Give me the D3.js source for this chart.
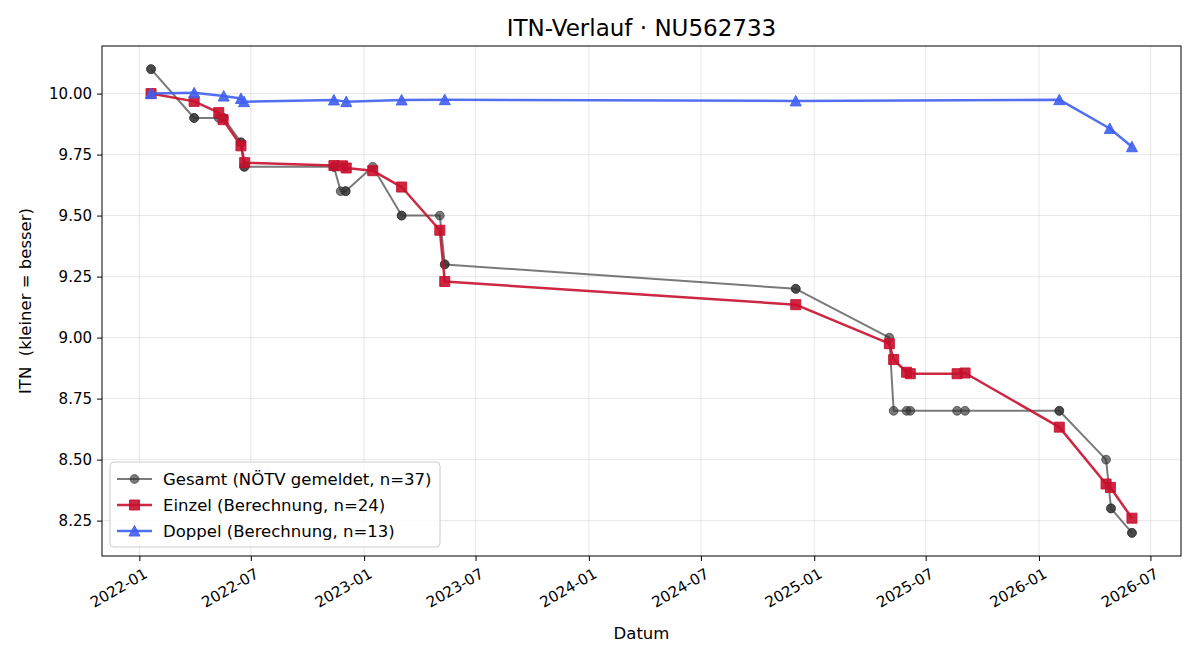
<!DOCTYPE html>
<html>
<head>
<meta charset="utf-8">
<script src="https://cdn.jsdelivr.net/npm/d3@7"></script>
<style>
  body { margin: 0; background: #fff; }
  svg { display: block; font-family: "DejaVu Sans", sans-serif; }
</style>
</head>
<body>
<svg id="chart" width="1200" height="660"></svg>
<script>
// ---- data ----
const gesamtDates = ["2022-01-20","2022-01-20","2022-03-31","2022-03-31","2022-05-10","2022-05-17","2022-05-18",
  "2022-06-15","2022-06-15","2022-06-20","2022-06-21","2022-11-13","2022-11-13","2022-11-24","2022-12-02","2022-12-02",
  "2023-01-15","2023-03-03","2023-03-03","2023-05-04","2023-05-12","2023-05-12","2024-12-02","2024-12-02",
  "2025-05-03","2025-05-10","2025-05-31","2025-06-06","2025-08-21","2025-09-03","2026-02-03","2026-02-03",
  "2026-04-20","2026-04-28","2026-04-28","2026-06-01","2026-06-01"];
const gesamtValues = [10.10,10.10,9.90,9.90,9.90,9.90,9.90,
  9.80,9.80,9.70,9.70,9.70,9.70,9.60,9.60,9.60,
  9.70,9.50,9.50,9.50,9.30,9.30,9.20,9.20,
  9.00,8.70,8.70,8.70,8.70,8.70,8.70,8.70,
  8.50,8.30,8.30,8.20,8.20];

const einzelDates = ["2022-01-20","2022-03-31","2022-05-10","2022-05-17","2022-06-15","2022-06-21",
  "2022-11-13","2022-11-27","2022-12-03","2023-01-15","2023-03-03","2023-05-04","2023-05-12",
  "2024-12-02","2025-05-03","2025-05-10","2025-05-31","2025-06-06","2025-08-21","2025-09-03",
  "2026-02-03","2026-04-20","2026-04-27","2026-06-01"];
const einzelValues = [10.00,9.968,9.922,9.893,9.786,9.717,
  9.705,9.704,9.695,9.684,9.617,9.440,9.230,
  9.135,8.975,8.910,8.858,8.852,8.852,8.855,
  8.633,8.400,8.386,8.260];

const doppelDates = ["2022-01-20","2022-03-31","2022-05-18","2022-06-15","2022-06-20","2022-11-13",
  "2022-12-03","2023-03-03","2023-05-12","2024-12-02","2026-02-03","2026-04-26","2026-06-01"];
const doppelValues = [10.00,10.003,9.990,9.980,9.967,9.974,
  9.967,9.974,9.975,9.970,9.975,9.857,9.782];

const yTicks = [8.25,8.50,8.75,9.00,9.25,9.50,9.75,10.00];
const xTickDates = ["2022-01-01","2022-07-01","2023-01-01","2023-07-01","2024-01-01","2024-07-01",
  "2025-01-01","2025-07-01","2026-01-01","2026-07-01"];

const legendLabels = ["Gesamt (NÖTV gemeldet, n=37)","Einzel (Berechnung, n=24)","Doppel (Berechnung, n=13)"];

// ---- layout ----
const W = 1200, H = 660;
const L = 102, R = 1181, T = 46, B = 556;
const parse = d3.timeParse("%Y-%m-%d");

const toPts = (ds, vs) => ds.map((d, i) => ({ date: parse(d), v: vs[i] }));
const gesamt = toPts(gesamtDates, gesamtValues);
const einzel = toPts(einzelDates, einzelValues);
const doppel = toPts(doppelDates, doppelValues);
const all = gesamt.concat(einzel, doppel);

const xExt = d3.extent(all, d => d.date);
const xSpan = xExt[1] - xExt[0];
const x = d3.scaleTime()
  .domain([new Date(+xExt[0] - 0.05 * xSpan), new Date(+xExt[1] + 0.05 * xSpan)])
  .range([L, R]);
const yExt = d3.extent(all, d => d.v);
const ySpan = yExt[1] - yExt[0];
const y = d3.scaleLinear()
  .domain([yExt[0] - 0.05 * ySpan, yExt[1] + 0.05 * ySpan])
  .range([B, T]);

const svg = d3.select("#chart");
svg.append("rect").attr("width", W).attr("height", H).attr("fill", "#fff");

// grid
const grid = svg.append("g");
const xt = xTickDates.map(parse);
grid.selectAll("line.gx").data(xt).join("line")
  .attr("x1", d => x(d)).attr("x2", d => x(d)).attr("y1", T).attr("y2", B)
  .attr("stroke", "#b0b0b0").attr("stroke-opacity", 0.3).attr("stroke-width", 1);
grid.selectAll("line.gy").data(yTicks).join("line")
  .attr("y1", d => y(d)).attr("y2", d => y(d)).attr("x1", L).attr("x2", R)
  .attr("stroke", "#b0b0b0").attr("stroke-opacity", 0.3).attr("stroke-width", 1);

// axes
const xAxis = svg.append("g").attr("transform", `translate(0,${B})`)
  .call(d3.axisBottom(x).tickValues(xt).tickFormat(d3.timeFormat("%Y-%m")).tickSize(5).tickPadding(4));
xAxis.select(".domain").remove();
xAxis.selectAll(".tick line").attr("stroke", "#000").attr("stroke-width", 1);
xAxis.selectAll(".tick text")
  .attr("font-size", 15).attr("font-family", "DejaVu Sans").attr("fill", "#000")
  .attr("text-anchor", "end").attr("dy", null).attr("y", null)
  .attr("transform", "translate(3,11) rotate(-30)")
  .attr("dominant-baseline", "hanging");

const yAxis = svg.append("g").attr("transform", `translate(${L},0)`)
  .call(d3.axisLeft(y).tickValues(yTicks).tickFormat(d3.format(".2f")).tickSize(5).tickPadding(5));
yAxis.select(".domain").remove();
yAxis.selectAll(".tick line").attr("stroke", "#000").attr("stroke-width", 1);
yAxis.selectAll(".tick text").attr("font-size", 15).attr("font-family", "DejaVu Sans").attr("fill", "#000");

// frame
svg.append("rect").attr("x", L).attr("y", T).attr("width", R - L).attr("height", B - T)
  .attr("fill", "none").attr("stroke", "#000").attr("stroke-width", 1);

// series
const line = d3.line().x(d => x(d.date)).y(d => y(d.v));
const series = [
  { data: gesamt, color: "#333333", op: 0.65, lw: 2, marker: "circle" },
  { data: einzel, color: "#c8102e", op: 0.9, lw: 2.5, marker: "square" },
  { data: doppel, color: "#3f5fef", op: 0.9, lw: 2.5, marker: "triangle" }
];
const markerPath = (m) => {
  if (m === "circle") return d3.symbol(d3.symbolCircle, Math.PI * 4.4 * 4.4)();
  if (m === "square") return "M-5,-5L5,-5L5,5L-5,5Z";
  return "M0,-5.5L5.5,5L-5.5,5Z";
};
const plot = svg.append("g");
series.forEach(s => {
  plot.append("path").datum(s.data).attr("d", line)
    .attr("fill", "none").attr("stroke", s.color).attr("stroke-opacity", s.op)
    .attr("stroke-width", s.lw).attr("stroke-linejoin", "round").attr("stroke-linecap", "butt");
  plot.selectAll(null).data(s.data).join("path")
    .attr("d", markerPath(s.marker))
    .attr("transform", d => `translate(${x(d.date)},${y(d.v)})`)
    .attr("fill", s.color).attr("fill-opacity", s.op)
    .attr("stroke", s.color).attr("stroke-opacity", s.op).attr("stroke-width", 1);
});

// title & labels
svg.append("text").attr("x", (L + R) / 2).attr("y", 36).attr("text-anchor", "middle")
  .attr("font-size", 23).attr("fill", "#000").text("ITN-Verlauf · NU562733");
svg.append("text").attr("x", (L + R) / 2).attr("y", 639).attr("text-anchor", "middle")
  .attr("font-size", 16.5).attr("fill", "#000").text("Datum");
svg.append("text").attr("transform", `translate(31,${(T + B) / 2}) rotate(-90)`).attr("text-anchor", "middle")
  .attr("font-size", 16.5).attr("fill", "#000").attr("xml:space", "preserve").style("white-space", "pre")
  .text("ITN  (kleiner = besser)");

// legend
const lg = svg.append("g");
lg.append("rect").attr("x", 110).attr("y", 462).attr("width", 330).attr("height", 85)
  .attr("rx", 4).attr("fill", "#fff").attr("fill-opacity", 0.8).attr("stroke", "#cccccc").attr("stroke-width", 1);
series.forEach((s, i) => {
  const cy = 479 + i * 26;
  lg.append("line").attr("x1", 117).attr("x2", 152).attr("y1", cy).attr("y2", cy)
    .attr("stroke", s.color).attr("stroke-opacity", s.op).attr("stroke-width", s.lw);
  lg.append("path").attr("d", markerPath(s.marker)).attr("transform", `translate(134.5,${cy})`)
    .attr("fill", s.color).attr("fill-opacity", s.op).attr("stroke", s.color).attr("stroke-opacity", s.op);
  lg.append("text").attr("x", 163).attr("y", cy).attr("dy", "0.36em")
    .attr("font-size", 16.5).attr("fill", "#000").text(legendLabels[i]);
});
</script>
</body>
</html>
